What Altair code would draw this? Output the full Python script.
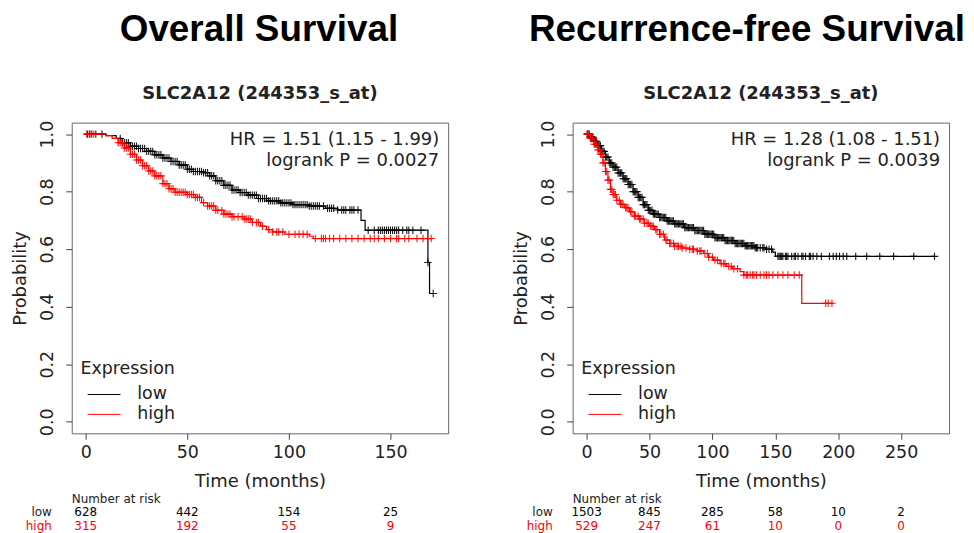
import altair as alt
import pandas as pd

# ---------------- data ----------------
# Panel 1: Overall Survival
os_low_t = [0, 10, 15, 18, 22, 26, 30, 34, 38, 42, 46, 50, 53, 58, 61, 64, 68, 72, 76, 80, 85, 90, 96, 102, 110,
            118, 124, 135.5, 137.5, 168.4, 169.2, 171]
os_low_s = [1.0, 0.995, 0.985, 0.97, 0.958, 0.95, 0.94, 0.928, 0.917, 0.905, 0.893, 0.878, 0.87, 0.866, 0.855,
            0.838, 0.822, 0.806, 0.797, 0.788, 0.776, 0.768, 0.761, 0.755, 0.75, 0.742, 0.736, 0.70, 0.666,
            0.554, 0.446, 0.446]
os_high_t = [0, 10, 13, 16, 19, 22, 25, 28, 31, 34, 38, 41, 44, 50, 54, 57, 60, 64, 68, 72, 78, 82, 86, 89, 92,
             98, 110, 112, 170.5]
os_high_s = [1.0, 0.995, 0.985, 0.97, 0.952, 0.93, 0.91, 0.89, 0.872, 0.855, 0.828, 0.81, 0.798, 0.79, 0.78,
             0.762, 0.75, 0.735, 0.722, 0.713, 0.705, 0.693, 0.68, 0.668, 0.66, 0.652, 0.645, 0.637, 0.637]
os_low_cens = [1, 2, 3, 5, 8, 17, 18, 19, 20, 21, 22, 23, 24, 25, 26, 27, 28, 29, 30, 31, 32, 33, 34, 35, 36, 37,
               38, 39, 40, 41, 42, 43, 44, 45, 46, 47, 48, 49, 50, 51, 52, 53, 54, 55, 56, 57, 58, 59, 60, 61, 62,
               63, 64, 65, 66, 67, 68, 69, 70, 71, 72, 73, 74, 75, 76, 77, 78, 79, 80, 81, 82, 83, 84, 85, 86, 87,
               88, 89, 90, 91, 92, 93, 94, 95, 96, 97, 98, 99, 100, 101, 102, 103, 104, 105, 106, 107, 108, 109,
               110, 111, 112, 113, 114, 115, 117, 119, 120, 121, 122, 124, 126, 127, 128, 130, 131, 132, 134,
               139, 142, 144, 145, 146, 147, 148, 149, 150, 151, 152, 153, 154, 156, 158, 159, 161, 165, 168.4,
               171]
os_high_cens = [0.5, 2, 4, 16, 17, 18, 19, 20, 21, 22, 23, 24, 25, 26, 27, 28, 29, 30, 31, 32, 33, 34, 35, 36,
                37, 38, 39, 40, 41, 42, 43, 44, 45, 46, 47, 48, 49, 50, 51, 52, 53, 54, 55, 56, 58, 60, 61, 62,
                63, 64, 65, 67, 68, 69, 70, 71, 72, 73, 75, 77, 78, 79, 80, 81, 82, 84, 85, 87, 90, 92, 94, 95,
                97, 100, 103, 105, 107, 109, 113, 116, 117, 118, 120, 122, 125, 128, 131, 134, 137, 140, 142,
                144, 147, 150, 153, 154, 157, 159, 163, 166, 170]
os_risk_t = [0, 50, 100, 150]
os_risk_low = [628, 442, 154, 25]
os_risk_high = [315, 192, 55, 9]

# Panel 2: Recurrence-free Survival
rfs_low_t = [0, 3, 6, 9, 12, 15, 18, 21, 25, 29, 33, 37, 41, 45, 49, 53, 58, 64, 70, 78, 86, 94, 102, 110, 118,
             126, 134, 142, 148, 150, 277]
rfs_low_s = [1.0, 0.99, 0.975, 0.96, 0.94, 0.92, 0.9, 0.885, 0.865, 0.845, 0.825, 0.8, 0.78, 0.755, 0.735, 0.722,
             0.71, 0.698, 0.688, 0.675, 0.665, 0.652, 0.64, 0.63, 0.62, 0.612, 0.605, 0.6, 0.59, 0.575, 0.575]
rfs_high_t = [0, 3, 6, 9, 11, 13, 15, 17, 19, 21, 24, 27, 30, 34, 38, 42, 46, 50, 54, 58, 62, 66, 70, 76, 82, 88,
              93, 97, 101, 106, 111, 116, 122, 125, 171, 196]
rfs_high_s = [1.0, 0.985, 0.965, 0.945, 0.93, 0.9, 0.87, 0.84, 0.808, 0.79, 0.77, 0.756, 0.744, 0.73, 0.715, 0.705,
              0.69, 0.68, 0.668, 0.652, 0.632, 0.62, 0.61, 0.604, 0.6, 0.594, 0.585, 0.572, 0.562, 0.55, 0.54,
              0.532, 0.522, 0.51, 0.412, 0.412]
rfs_low_cens = [0.5, 1, 2, 3, 4, 5, 6, 7, 8, 9, 10, 11, 12, 13, 14, 15, 16, 17, 18, 19, 20, 21, 22, 23, 24, 25,
                26, 27, 28, 29, 30, 31, 32, 33, 34, 35, 36, 37, 38, 39, 40, 41, 42, 43, 44, 45, 46, 47, 48, 49, 50,
                51, 52, 53, 54, 55, 56, 57, 58, 59, 60, 61, 62, 63, 64, 65, 66, 67, 68, 69, 70, 71, 72, 73, 74, 75,
                76, 77, 78, 79, 80, 81, 82, 83, 84, 85, 86, 87, 88, 89, 90, 91, 92, 93, 94, 95, 96, 97, 98, 99,
                100, 101, 102, 103, 104, 105, 106, 107, 108, 109, 110, 111, 112, 113, 114, 115, 116, 117, 118,
                119, 120, 121, 122, 123, 124, 125, 126, 127, 128, 129, 130, 131, 132, 133, 134, 135, 136, 138,
                140, 141, 143, 145, 147, 152, 153, 154, 155, 156, 158, 159, 160, 163, 165, 166, 168, 171, 172,
                174, 177, 178, 180, 183, 186.6, 193, 196, 198.5, 201, 204, 206.8, 213.9, 222.6, 233, 244, 260,
                276.5]
rfs_high_cens = [0.5, 1, 2, 3, 4, 5, 6, 7, 8, 9, 10, 11, 12, 13, 14, 15, 16, 17, 18, 19, 20, 21, 22, 23, 24, 26,
                 27, 28, 29, 31, 32, 33, 35, 36, 38, 39, 41, 42, 43, 45, 46, 48, 49, 51, 52, 53, 55, 56, 58, 59,
                 61, 63, 64, 66, 67, 69, 70, 72, 73, 75, 76, 79, 82, 84, 85, 88, 90, 91, 94, 96, 97, 100, 102, 104,
                 107, 109, 110, 113, 115, 117, 120, 125, 127, 128, 130, 132, 133, 135, 138, 141, 143, 145, 148,
                 152, 156, 160, 165, 169, 190, 192, 195]
rfs_risk_t = [0, 50, 100, 150, 200, 250]
rfs_risk_low = [1503, 845, 285, 58, 10, 2]
rfs_risk_high = [529, 247, 61, 10, 0, 0]

titles = ["Overall Survival", "Recurrence-free Survival"]
subtitle = "SLC2A12 (244353_s_at)"
hr_lines = [["HR = 1.51 (1.15 - 1.99)", "logrank P = 0.0027"],
            ["HR = 1.28 (1.08 - 1.51)", "logrank P = 0.0039"]]
y_ticks = [0.0, 0.2, 0.4, 0.6, 0.8, 1.0]

# ---------------- styling ----------------
W, H = 378, 312
FONT = "DejaVu Sans"
TXT = "#222222"
BLACK = "#000000"
RED = "#ff0000"
PLUS = "M-1,0H1M0,-1V1"


def step_at(ts, ss, t):
    v = ss[0]
    for ti, si in zip(ts, ss):
        if ti <= t:
            v = si
        else:
            break
    return v


def one(**kw):
    return pd.DataFrame({k: [v] for k, v in kw.items()})


def panel(idx, title_x, tmax, ticks, lt, ls, ht, hs, lc, hc, rt, rl, rh):
    pad = tmax * 0.04
    xs = alt.Scale(domain=[-pad, tmax + pad], nice=False, zero=False)
    ys = alt.Scale(domain=[-0.04, 1.04], nice=False, zero=False)
    xaxis = alt.Axis(values=ticks, title="Time (months)", domain=False, grid=False, tickSize=6,
                     tickColor="#444444", labelFont=FONT, labelFontSize=17.5, labelColor=TXT,
                     labelBaseline="middle", labelPadding=13.7, labelFlush=False, labelOverlap=False,
                     titleFont=FONT, titleFontSize=18, titleFontWeight="normal", titleColor=TXT,
                     titleY=48.7, titleBaseline="middle")
    yaxis = alt.Axis(values=y_ticks, format=".1f", title="Probability", domain=False, grid=False,
                     tickSize=6, tickColor="#444444", labelFont=FONT, labelFontSize=17.5, labelColor=TXT,
                     labelAngle=270, labelAlign="center", labelBaseline="middle", labelPadding=18,
                     labelFlush=False, labelOverlap=False,
                     titleFont=FONT, titleFontSize=18, titleFontWeight="normal", titleColor=TXT,
                     titleX=-51, titleY=H / 2, titleAngle=270, titleAlign="center", titleBaseline="middle")
    X = alt.X("t:Q", scale=xs, axis=xaxis)
    Y = alt.Y("s:Q", scale=ys, axis=yaxis)

    def curve(ts, ss, col):
        df = pd.DataFrame({"t": ts, "s": ss})
        return alt.Chart(df).mark_line(interpolate="step-after", strokeWidth=1.2, color=col).encode(x=X, y=Y)

    def cens(cs, ts, ss, col):
        df = pd.DataFrame({"t": cs, "s": [step_at(ts, ss, c) for c in cs]})
        return alt.Chart(df).mark_point(shape=PLUS, size=56, filled=False, strokeWidth=1.1, color=col,
                                        opacity=0.9).encode(x=X, y=Y)

    def risk(vals, ypix, col):
        df = pd.DataFrame({"t": rt, "n": vals})
        return alt.Chart(df).mark_text(font=FONT, fontSize=12, color=col, align="center",
                                       baseline="middle").encode(x=X, y=alt.value(ypix), text="n:Q")

    def label(text, x, y, size, col=TXT, align="left", weight="normal", font=FONT, baseline="middle"):
        return alt.Chart(one(label=text)).mark_text(font=font, fontSize=size, color=col, align=align,
                                                    baseline=baseline, fontWeight=weight).encode(
            x=alt.value(x), y=alt.value(y), text="label:N")

    def legline(y, col):
        return alt.Chart(one(a=0)).mark_rule(color=col, strokeWidth=1).encode(
            x=alt.value(16), x2=alt.value(49), y=alt.value(y))

    layers = [
        curve(lt, ls, BLACK),
        cens(lc, lt, ls, BLACK),
        curve(ht, hs, RED),
        cens(hc, ht, hs, RED),
        risk(rl, 390.7, BLACK),
        risk(rh, 405.2, RED),
        label("Number at risk", 0, 378, 12),
        label("low", -20, 390.7, 12, align="right"),
        label("high", -20, 405.2, 12, col=RED, align="right"),
        label(titles[idx], title_x, -82, 37, col=BLACK, align="center", weight="bold",
              font="Liberation Sans", baseline="alphabetic"),
        label(subtitle, W / 2, -29, 18, col=TXT, align="center", weight="bold"),
        label(hr_lines[idx][0], 369, 17.3, 18, align="right"),
        label(hr_lines[idx][1], 369, 39, 18, align="right"),
        label("Expression", 8.7, 247.3, 17.5),
        legline(273, BLACK),
        legline(293, RED),
        label("low", 65.7, 273, 17.5),
        label("high", 65.7, 293, 17.5),
    ]
    return alt.layer(*layers).properties(width=W, height=H)


p1 = panel(0, 188, 171.5, os_risk_t, os_low_t, os_low_s, os_high_t, os_high_s, os_low_cens, os_high_cens,
           os_risk_t, os_risk_low, os_risk_high)
p2 = panel(1, 175, 277, rfs_risk_t, rfs_low_t, rfs_low_s, rfs_high_t, rfs_high_s, rfs_low_cens, rfs_high_cens,
           rfs_risk_t, rfs_risk_low, rfs_risk_high)

chart = alt.hconcat(p1, p2, spacing=125, bounds="flush").properties(
    padding={"left": 3, "top": 1, "right": 0, "bottom": 0}
).configure_view(stroke="#666666", strokeWidth=1)

chart.save("out.html", embed_options={"renderer": "svg", "actions": False})
